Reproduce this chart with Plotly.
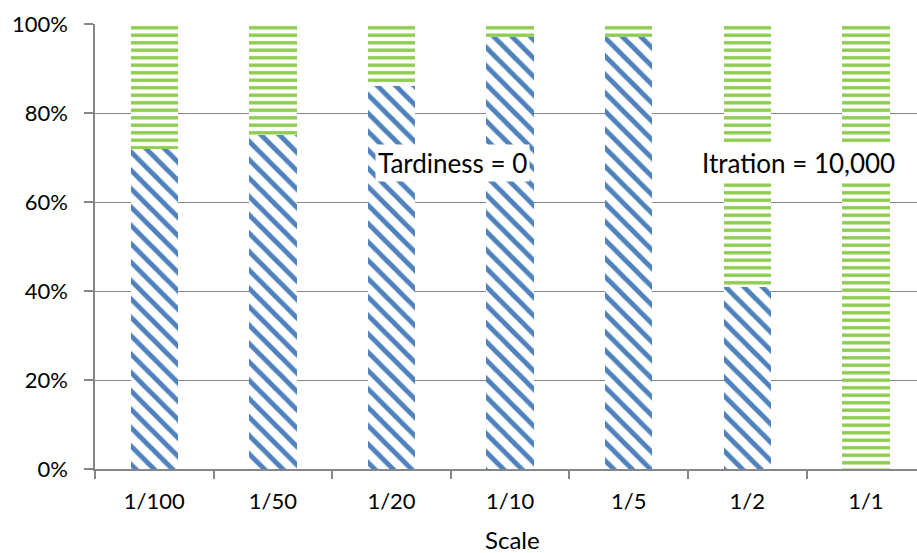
import plotly.graph_objects as go

# Share of runs per scale (percent)
scales = ["1/100", "1/50", "1/20", "1/10", "1/5", "1/2", "1/1"]
blue_share = [72, 75, 86, 97, 97, 41, 0]
green_share = [28, 25, 14, 3, 3, 59, 100]
y_ticks = [0, 20, 40, 60, 80, 100]

BLUE = "#4F81BD"
GREEN = "#8CCB4E"
AXIS = "#868686"
FONT = "Lato, Open Sans, sans-serif"

fig = go.Figure()
fig.add_trace(go.Bar(
    x=scales, y=blue_share, width=0.4,
    marker=dict(color="white", line=dict(width=0),
                pattern=dict(shape="\\", fgcolor=BLUE, bgcolor="white",
                             size=13, solidity=0.38, fillmode="replace",
                             fgopacity=1)),
    showlegend=False,
))
fig.add_trace(go.Bar(
    x=scales, y=green_share, width=0.4,
    marker=dict(color="white", line=dict(width=0),
                pattern=dict(shape="-", fgcolor=GREEN, bgcolor="white",
                             size=7.5, solidity=0.45, fillmode="replace",
                             fgopacity=1)),
    showlegend=False,
))

fig.update_layout(
    barmode="stack",
    width=917, height=553,
    margin=dict(l=95, r=0, t=24, b=84),
    paper_bgcolor="white", plot_bgcolor="white",
    font=dict(family=FONT, size=22, color="black"),
    xaxis=dict(
        range=[-0.5, 6.431],
        showline=True, linecolor=AXIS, linewidth=1.5,
        ticks="outside", tickson="boundaries", ticklen=8,
        tickcolor=AXIS, tickwidth=1.5, ticklabelstandoff=12,
        showgrid=False, zeroline=False,
        tickfont=dict(size=22),
    ),
    yaxis=dict(
        range=[0, 100], tickvals=y_ticks,
        ticktext=[f"{v}%" for v in y_ticks],
        showline=True, linecolor=AXIS, linewidth=1.5,
        ticks="outside", ticklen=9, tickcolor=AXIS, tickwidth=1.5,
        ticklabelstandoff=12,
        showgrid=True, gridcolor=AXIS, gridwidth=1.2,
        zeroline=False, tickfont=dict(size=22),
    ),
    annotations=[
        dict(text="Scale", xref="paper", yref="paper",
             x=(512 - 95) / 822, y=(469 - 539) / 445, showarrow=False,
             font=dict(size=24), xanchor="center", yanchor="middle"),
        dict(text="Tardiness = 0", xref="paper", yref="paper",
             x=(452 - 95) / 822, y=0.688, showarrow=False,
             font=dict(size=26), bgcolor="white", borderpad=2,
             xanchor="center", yanchor="middle"),
        dict(text="Itration = 10,000", xref="paper", yref="paper",
             x=(798 - 95) / 822, y=0.688, showarrow=False,
             font=dict(size=26), bgcolor="white", borderpad=2,
             xanchor="center", yanchor="middle"),
    ],
)

fig.write_html("out.html")
